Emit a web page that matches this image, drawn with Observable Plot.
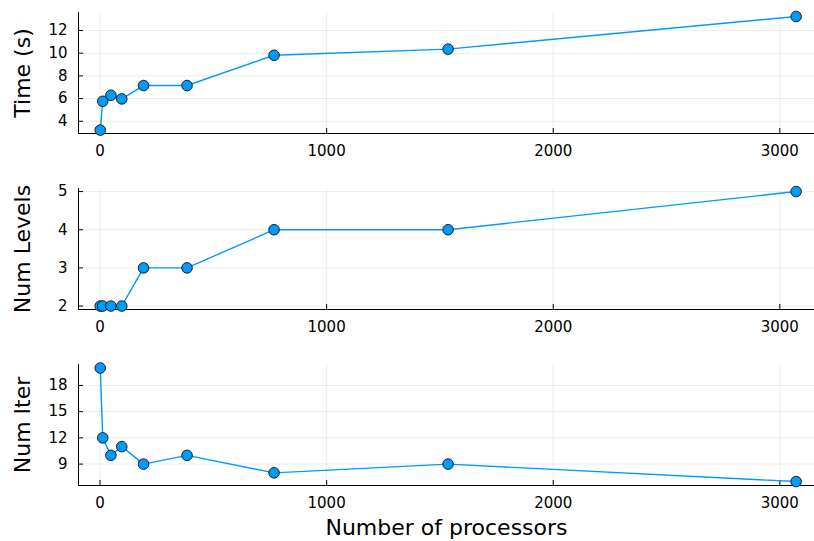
<!DOCTYPE html>
<html><head><meta charset="utf-8">
<script src="https://cdn.jsdelivr.net/npm/d3@7"></script>
<script src="https://cdn.jsdelivr.net/npm/@observablehq/plot@0.6"></script>
<style>
body{margin:0;background:#fff;overflow:hidden}
#chart svg{display:block}
#chart [aria-label="y-axis label"], #chart [aria-label="x-axis label"]{font-size:22px}
</style>
</head><body><div id="chart"></div>
<script>
const processors = [1, 12, 48, 96, 192, 384, 768, 1536, 3072];
const timeSeconds = [3.22, 5.76, 6.29, 5.97, 7.15, 7.15, 9.82, 10.36, 13.24];
const numLevels = [2, 2, 2, 2, 3, 3, 4, 4, 5];
const numIter = [20, 12, 10, 11, 9, 10, 8, 9, 7];

const xTicks = [0, 1000, 2000, 3000];
const timeTicks = [4, 6, 8, 10, 12];
const levelTicks = [2, 3, 4, 5];
const iterTicks = [9, 12, 15, 18];

const xDomain = [-95, 3153];
const blue = "#009AFA";

function panel({values, yLabel, yDomain, yTicks, height, marginBottom, xLabel}) {
  const data = processors.map((p, i) => ({p, v: values[i]}));
  return Plot.plot({
    width: 814, height,
    marginLeft: 78, marginRight: 0, marginTop: 12, marginBottom,
    style: {fontFamily: "DejaVu Sans", fontSize: "15px", color: "#000", background: "#fff", overflow: "visible"},
    x: {domain: xDomain},
    y: {domain: yDomain},
    marks: [
      Plot.gridX(xTicks, {stroke: "#000", strokeOpacity: 0.08, strokeWidth: 1}),
      Plot.gridY(yTicks, {stroke: "#000", strokeOpacity: 0.08, strokeWidth: 1}),
      Plot.ruleX([xDomain[0]], {stroke: "#000", strokeWidth: 1}),
      Plot.ruleY([yDomain[0]], {stroke: "#000", strokeWidth: 1}),
      Plot.axisX(xTicks, {tickSize: -5, tickPadding: 17, fontSize: 15, tickFormat: d => String(d),
        label: xLabel ?? null, labelAnchor: "center", labelArrow: "none", labelOffset: 49}),
      Plot.axisY(yTicks, {tickSize: -5, tickPadding: 16, fontSize: 15, tickFormat: d => String(d),
        label: yLabel, labelAnchor: "center", labelArrow: "none", labelOffset: 64}),
      Plot.line(data, {x: "p", y: "v", stroke: blue, strokeWidth: 1.4}),
      Plot.dot(data, {x: "p", y: "v", r: 5.3, fill: blue, stroke: "#111", strokeWidth: 0.9})
    ]
  });
}

const root = document.getElementById("chart");
root.append(panel({values: timeSeconds, yLabel: "Time (s)", yDomain: [2.92, 13.59], yTicks: timeTicks, height: 176, marginBottom: 43}));
root.append(panel({values: numLevels, yLabel: "Num Levels", yDomain: [1.91, 5.08], yTicks: levelTicks, height: 176, marginBottom: 43}));
root.append(panel({values: numIter, yLabel: "Num Iter", yDomain: [6.55, 20.4], yTicks: iterTicks, height: 189, marginBottom: 56, xLabel: "Number of processors"}));
</script>
</body></html>
